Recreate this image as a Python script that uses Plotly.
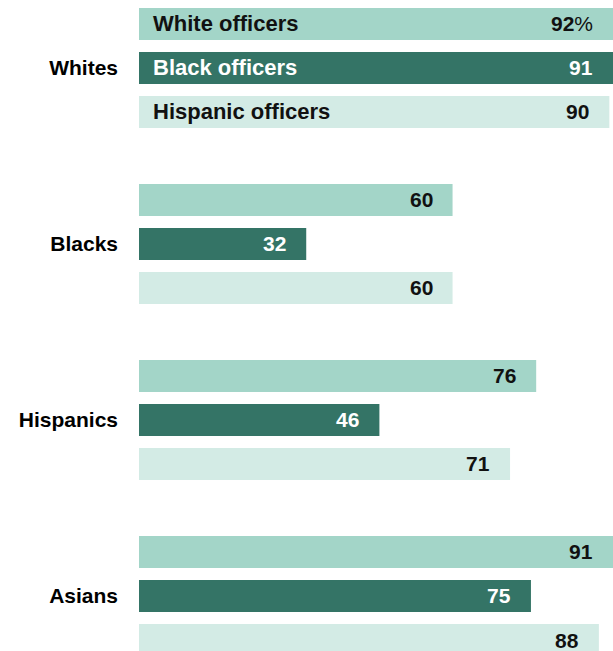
import plotly.graph_objects as go

groups = ["Whites", "Blacks", "Hispanics", "Asians"]
series = ["White officers", "Black officers", "Hispanic officers"]
white_officers = [92, 60, 76, 91]
black_officers = [91, 32, 46, 75]
hispanic_officers = [90, 60, 71, 88]
values = [white_officers, black_officers, hispanic_officers]

colors = ["#a3d5c8", "#347466", "#d3ebe5"]
text_colors = ["#111111", "#ffffff", "#111111"]
FONT = "Liberation Sans"
XMAX = 90.7

fig = go.Figure()
for name, vals, col in zip(series, values, colors):
    fig.add_trace(go.Bar(
        y=groups, x=vals, name=name, orientation="h",
        marker=dict(color=col, line=dict(width=0)),
        hoverinfo="x+y",
    ))

n = len(series)
slot = (1 - 0.25) / n
annotations = []
for j, (name, vals) in enumerate(zip(series, values)):
    off = (j - (n - 1) / 2) * slot
    for i, v in enumerate(vals):
        txt = f"<b>{v}</b>" + ("%" if (i == 0 and j == 0) else "")
        annotations.append(dict(
            x=min(v, XMAX), y=i + off, xref="x", yref="y",
            text=txt, showarrow=False, xanchor="right", yanchor="middle",
            xshift=-18, font=dict(family=FONT, size=21, color=text_colors[j]),
        ))
    annotations.append(dict(
        x=0, y=0 + off, xref="x", yref="y",
        text=f"<b>{name}</b>", showarrow=False, xanchor="left", yanchor="middle",
        xshift=12, font=dict(family=FONT, size=22, color=text_colors[j]),
    ))

fig.update_layout(
    width=613, height=651,
    margin=dict(l=139, r=0, t=0, b=0),
    paper_bgcolor="white", plot_bgcolor="white",
    barmode="group", bargap=0.25, bargroupgap=0.2727,
    showlegend=False,
    annotations=annotations,
    xaxis=dict(range=[0, XMAX], visible=False, fixedrange=True),
    yaxis=dict(range=[3.3125, -0.386], showgrid=False, zeroline=False, showline=False,
               ticks="", ticklabelstandoff=20, fixedrange=True,
               tickfont=dict(family=FONT, size=21, color="#000000", weight="bold")),
    font=dict(family=FONT),
)

fig.write_html(
    "out.html",
    config={"displayModeBar": False},
    post_script="document.body.style.margin='0';document.body.style.overflow='hidden';",
)
